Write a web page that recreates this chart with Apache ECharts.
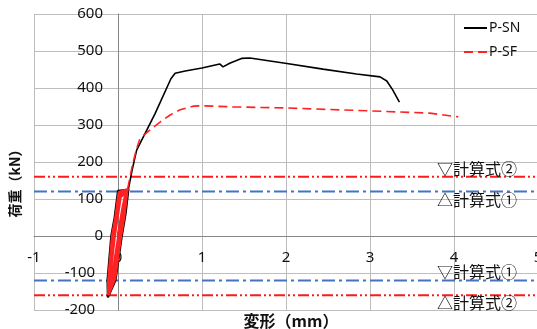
<!DOCTYPE html>
<html><head><meta charset="utf-8">
<script src="https://cdn.jsdelivr.net/npm/echarts@6/dist/echarts.min.js"></script>
<style>html,body{margin:0;padding:0;background:#fff}#c{width:537px;height:329px}</style>
</head><body><div id="c"></div>
<script>
// P-SN (black): cyclic loops near origin
const snLoopDisp = [0, 0.06, 0.11, 0.125, 0.0, -0.04, -0.08, -0.125, -0.12, -0.03, 0.045, 0.09, 0.125];
const snLoopLoad = [0, 70, 125, 127, 122, 50, 0, -120, -166, -120, 0, 60, 128];
// P-SN envelope
const snEnvDisp = [0.125, 0.17, 0.222, 0.44, 0.63, 0.68, 0.8, 1.0, 1.21, 1.25, 1.33, 1.47, 1.57, 2.01, 2.44, 2.84, 3.12, 3.2, 3.27, 3.35];
const snEnvLoad = [128, 180, 232, 330, 425, 440, 446, 454, 465, 457, 467, 480, 481, 466, 451, 438, 430, 419, 395, 362];
// P-SF (red): cyclic loops near origin
const sfLoopDisp = [0, 0.05, 0.1, 0.01, -0.03, -0.07, -0.115, -0.115, -0.035, 0.035, 0.075, 0.11, 0.02, -0.015, -0.055,
  -0.1, -0.11, -0.05, 0.02, 0.06, 0.1, 0.03, -0.04, -0.09, -0.105, -0.065, 0.005, 0.05, 0.115];
const sfLoopLoad = [0, 70, 125, 118, 50, 0, -120, -160, -115, 0, 55, 122, 112, 50, 0,
  -110, -155, -110, 0, 55, 120, 105, 0, -100, -150, -105, 0, 60, 128];
// P-SF envelope (dashed)
const sfEnvDisp = [0.115, 0.17, 0.22, 0.262, 0.4, 0.5, 0.62, 0.74, 0.9, 1.0, 1.37, 2.0, 2.5, 3.02, 3.71, 4.05];
const sfEnvLoad = [128, 190, 235, 264, 290, 308, 327, 341, 351, 352, 349, 346, 342, 338, 332, 322];
// reference load levels (kN)
const refNames = ['▽計算式②', '△計算式①', '▽計算式①', '△計算式②'];
const refValues = [160, 120, -120, -160];
const refKinds = ['red', 'blue', 'blue', 'red'];
const xMin = -1, xMax = 5, yMin = -200, yMax = 600;

const zip = (a, b) => a.map((v, i) => [v, b[i]]);
const FONT = 'Noto Sans, Noto Sans CJK JP, sans-serif';
const RED = '#FF2222';
const styles = {
  red: {color: '#FF1A1A', width: 2, type: [11, 3, 2, 3, 2, 3]},
  blue: {color: '#4472C4', width: 2, type: [13, 4, 3, 4]}
};

const chart = echarts.init(document.getElementById('c'), null, {renderer: 'canvas'});
const refSeries = refValues.map((v, i) => ({
  type: 'line', name: 'ref' + i, data: [[xMin, v], [xMax, v]], symbol: 'none', silent: true,
  lineStyle: styles[refKinds[i]], itemStyle: {color: styles[refKinds[i]].color}, z: 1
}));

chart.setOption({
  animation: false,
  grid: {left: 34, top: 14, width: 504, height: 296, containLabel: false, outerBoundsMode: 'none'},
  xAxis: {
    type: 'value', min: xMin, max: xMax, interval: 1,
    axisLine: {onZero: false, lineStyle: {color: '#868686', width: 1}},
    axisTick: {show: false},
    axisLabel: {color: '#111', fontSize: 15, fontFamily: FONT, margin: 14},
    splitLine: {show: true, lineStyle: {color: '#BDBDBD', width: 1}}
  },
  yAxis: {
    type: 'value', min: yMin, max: yMax, interval: 100,
    axisLine: {show: true, onZero: false, lineStyle: {color: '#868686', width: 1}},
    axisTick: {show: false},
    axisLabel: {color: '#111', fontSize: 15, fontFamily: FONT, margin: 15,
      formatter: v => v < 0 ? v + '  ' : '' + v},
    splitLine: {show: true, lineStyle: {color: '#BDBDBD', width: 1}}
  },
  legend: {
    data: ['P-SN', 'P-SF'], orient: 'vertical', left: 463, top: 21, padding: 0,
    itemWidth: 23, itemHeight: 14, itemGap: 10, itemStyle: {opacity: 0},
    textStyle: {color: '#111', fontSize: 14, fontFamily: FONT, padding: [0, 0, 0, -3]}
  },
  series: refSeries.concat([
    {type: 'line', name: 'P-SN', data: zip(snEnvDisp, snEnvLoad), symbol: 'none',
      lineStyle: {color: '#000', width: 1.6}, itemStyle: {color: '#000'}, z: 3},
    {type: 'line', name: 'P-SF', data: zip(sfEnvDisp, sfEnvLoad), symbol: 'none',
      lineStyle: {color: RED, width: 1.6, type: [9, 5]}, itemStyle: {color: RED}, z: 4},
    {type: 'line', name: 'P-SN', data: zip(snLoopDisp, snLoopLoad), symbol: 'none',
      lineStyle: {color: '#000', width: 2.2}, itemStyle: {color: '#000'}, z: 3},
    {type: 'line', name: 'P-SF', data: zip(sfLoopDisp, sfLoopLoad), symbol: 'none',
      lineStyle: {color: RED, width: 2.6}, itemStyle: {color: RED}, z: 4}
  ])
});

// place the axes where the other axis crosses zero, using the library's scales
const p0 = chart.convertToPixel({gridIndex: 0}, [0, 0]);
const pMin = chart.convertToPixel({gridIndex: 0}, [xMin, yMin]);
const graphics = refValues.map((v, i) => {
  const p = chart.convertToPixel({gridIndex: 0}, [4.75, v]);
  const up = refNames[i].charAt(0) === '▽';
  return {type: 'text', x: p[0], y: p[1] + (up ? -8 : 8),
    style: {text: refNames[i], fill: '#111', font: '16px "Noto Sans CJK JP"', align: 'right', verticalAlign: 'middle'}, z: 10};
});
graphics.push({type: 'text', x: 15, y: 180, rotation: Math.PI / 2,
  style: {text: '荷重（kN）', fill: '#111', font: 'bold 14px "Noto Sans CJK JP"', align: 'center', verticalAlign: 'middle'}});
graphics.push({type: 'text', x: 291, y: 321,
  style: {text: '変形（mm）', fill: '#111', font: 'bold 16px "Noto Sans CJK JP"', align: 'center', verticalAlign: 'middle'}});
chart.setOption({
  xAxis: {offset: p0[1] - pMin[1]},
  yAxis: {offset: pMin[0] - p0[0]},
  graphic: graphics
});
</script></body></html>
